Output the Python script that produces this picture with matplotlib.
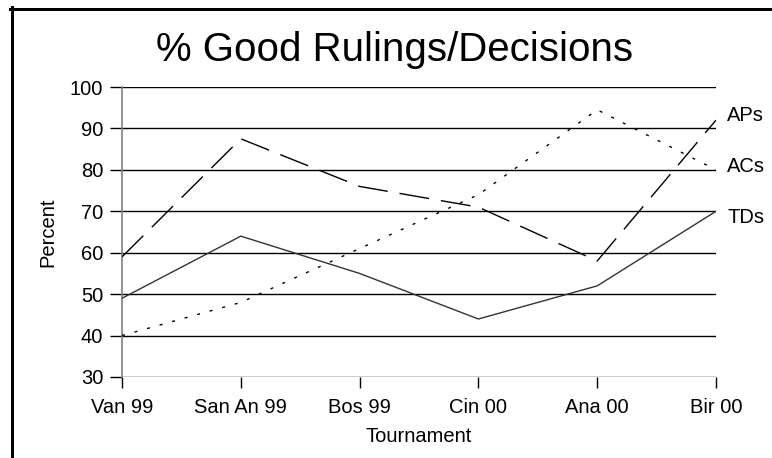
import matplotlib
matplotlib.use("Agg")
import matplotlib.pyplot as plt
from matplotlib.lines import Line2D

categories = ["Van 99", "San An 99", "Bos 99", "Cin 00", "Ana 00", "Bir 00"]
aps = [59, 87.5, 76, 71, 58, 92]
acs = [40, 48, 61, 74, 94.5, 80]
tds = [49, 64, 55, 44, 52, 70]
series_names = ["APs", "ACs", "TDs"]
yticks = [30, 40, 50, 60, 70, 80, 90, 100]

plt.rcParams['font.family'] = ['Liberation Sans', 'DejaVu Sans']

W, H = 772, 458
fig = plt.figure(figsize=(W / 100, H / 100), dpi=100)
fig.patch.set_facecolor("white")
ax = fig.add_axes([122 / W, 1 - 377 / H, (716 - 122) / W, (377 - 87) / H])

x = list(range(len(categories)))
ax.set_xlim(0, len(categories) - 1)
ax.set_ylim(30, 100)

# gridlines
for yv in yticks:
    ax.axhline(yv, color="black", lw=1.0, zorder=1)

px = 0.72  # points per pixel at dpi 100
l1, = ax.plot(x, aps, color="black", lw=1.0, zorder=3)
l1.set_dashes((30 * px, 12 * px))
l2, = ax.plot(x, acs, color="black", lw=1.0, zorder=3)
l2.set_dashes((3 * px, 10 * px))
l3, = ax.plot(x, tds, color="#333333", lw=1.0, zorder=3)

for name, vals, dy in zip(series_names, [aps, acs, tds], [1.2, 0.8, -1.4]):
    ax.annotate(name, xy=(x[-1], vals[-1] + dy), xytext=(8, 0), textcoords="offset points",
                fontsize=14.5, va="center", ha="left", annotation_clip=False)

for s in ["top", "right", "bottom"]:
    ax.spines[s].set_visible(False)
ax.spines["left"].set_color("#808080")
ax.spines["left"].set_linewidth(1.2)

ax.set_yticks(yticks)
ax.set_yticklabels([str(v) for v in yticks], fontsize=14.5)
ax.set_xticks(x)
ax.set_xticklabels(categories, fontsize=14.5)
ax.tick_params(axis="y", direction="out", length=9, width=1, color="black", pad=4.5)
ax.tick_params(axis="x", direction="out", length=8, width=1, color="black", pad=7)

ax.set_ylabel("Percent", fontsize=14.5, labelpad=9)
ax.set_xlabel("Tournament", fontsize=14.5, labelpad=7)

fig.text(0.5 * (155 + 635) / W, 1 - 50 / H, "% Good Rulings/Decisions", fontsize=29,
         ha="center", va="center")

# frame lines
fig.add_artist(Line2D([11.5 / W, 11.5 / W], [0, 1 - 7 / H], color="black", lw=3 * px,
                      transform=fig.transFigure))
fig.add_artist(Line2D([10 / W, 1], [1 - 8.5 / H, 1 - 8.5 / H], color="black", lw=3 * px,
                      transform=fig.transFigure))

fig.savefig("out.png", dpi=100)
